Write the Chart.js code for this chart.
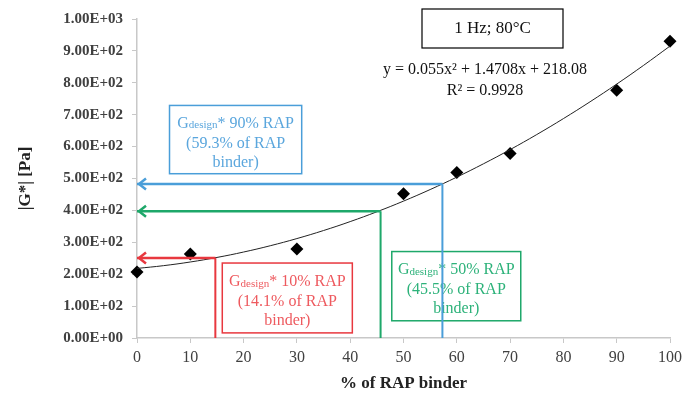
<!DOCTYPE html>
<html>
<head>
<meta charset="utf-8">
<script src="https://cdn.jsdelivr.net/npm/chart.js@4.4.1/dist/chart.umd.min.js"></script>
<style>
  html, body { margin: 0; padding: 0; background: #fff; }
  #wrap { width: 684px; height: 398px; }
</style>
</head>
<body>
<div id="wrap"><canvas id="chart"></canvas></div>
<script>
// measured |G*| at 1 Hz, 80°C
const rapPercent = [0, 10, 30, 50, 60, 70, 90, 100];
const gStar = [207, 263, 279, 452, 519, 578, 777, 930];

// polynomial trendline y = a x^2 + b x + c
const trendCoef = [0.055, 1.4708, 218.08];
const trendX = [0, 5, 10, 15, 20, 25, 30, 35, 40, 45, 50, 55, 60, 65, 70, 75, 80, 85, 90, 95, 100];

// design points read from the trendline: [% RAP binder, |G*|]
const design90 = [57.3, 483];
const design50 = [45.7, 397];
const design10 = [14.7, 251];

const xTicks = [0, 10, 20, 30, 40, 50, 60, 70, 80, 90, 100];
const yTicks = [0, 100, 200, 300, 400, 500, 600, 700, 800, 900, 1000];

const BLUE = '#4a9ed9';
const GREEN = '#1ea86a';
const RED = '#e8383f';
const SERIF = '"Liberation Serif", "DejaVu Serif", serif';

const trend = trendX.map(x => ({ x, y: trendCoef[0] * x * x + trendCoef[1] * x + trendCoef[2] }));

function guide(pt, color) {
  return [
    { type: 'line', data: [{ x: pt[0], y: pt[1] }, { x: 0, y: pt[1] }], borderColor: color,
      borderWidth: 2.5, pointRadius: 0, showLine: true, arrowColor: color },
    { type: 'line', data: [{ x: pt[0], y: pt[1] }, { x: pt[0], y: 0 }], borderColor: color,
      borderWidth: 2, pointRadius: 0, showLine: true }
  ];
}

// arrowheads at the axis end of the horizontal guides
const arrowHeads = {
  id: 'arrowHeads',
  afterDatasetsDraw(chart) {
    const ctx = chart.ctx;
    chart.data.datasets.forEach((ds, i) => {
      if (!ds.arrowColor) return;
      const meta = chart.getDatasetMeta(i);
      const tip = meta.data[1];
      ctx.save();
      ctx.strokeStyle = ds.arrowColor;
      ctx.lineWidth = 2.5;
      ctx.beginPath();
      ctx.moveTo(tip.x + 9, tip.y - 5.5);
      ctx.lineTo(tip.x + 2, tip.y);
      ctx.lineTo(tip.x + 9, tip.y + 5.5);
      ctx.stroke();
      ctx.restore();
    });
  }
};

// text boxes: [x1, y1, x2, y2] in axis units, lines of text
const notes = [
  { box: [6.1, 729, 30.9, 515], color: BLUE, text: '#5aa6dd', pct: '90% RAP', sub: '(59.3% of RAP' },
  { box: [16.0, 235, 40.4, 16], color: RED, text: '#ee5a5f', pct: '10% RAP', sub: '(14.1% of RAP' },
  { box: [47.8, 271, 72.0, 54], color: GREEN, text: '#2db27a', pct: '50% RAP', sub: '(45.5% of RAP' }
];

// the boxes sit under the guide lines
const noteBoxes = {
  id: 'noteBoxes',
  beforeDatasetsDraw(chart) {
    const ctx = chart.ctx;
    const xs = chart.scales.x, ys = chart.scales.y;
    ctx.save();
    notes.forEach(n => {
      const x1 = xs.getPixelForValue(n.box[0]), x2 = xs.getPixelForValue(n.box[2]);
      const y1 = ys.getPixelForValue(n.box[1]), y2 = ys.getPixelForValue(n.box[3]);
      ctx.strokeStyle = n.color;
      ctx.lineWidth = 1.5;
      ctx.strokeRect(x1, y1, x2 - x1, y2 - y1);
      const cx = (x1 + x2) / 2, cy = (y1 + y2) / 2;
      ctx.fillStyle = n.text;
      ctx.textBaseline = 'middle';
      // first line: G with small "design" then "* NN% RAP"
      const big = '16px ' + SERIF, small = '11px ' + SERIF;
      ctx.font = big;
      const wG = ctx.measureText('G').width;
      const rest = '* ' + n.pct;
      const wR = ctx.measureText(rest).width;
      ctx.font = small;
      const wD = ctx.measureText('design').width;
      let x = cx - (wG + wD + wR) / 2;
      const l1 = cy - 16;
      ctx.textAlign = 'left';
      ctx.font = big;
      ctx.fillText('G', x, l1);
      x += wG;
      ctx.font = small;
      ctx.fillText('design', x, l1 + 2);
      x += wD;
      ctx.font = big;
      ctx.fillText(rest, x, l1);
      ctx.textAlign = 'center';
      ctx.fillText(n.sub, cx, cy + 4);
      ctx.fillText('binder)', cx, cy + 23);
    });
    ctx.restore();
  },
  afterDraw(chart) {
    const ctx = chart.ctx;
    // test condition box and fit equation
    const bx1 = 422, bx2 = 563, by1 = 9, by2 = 48;
    ctx.save();
    ctx.strokeStyle = '#000';
    ctx.lineWidth = 1.2;
    ctx.strokeRect(bx1, by1, bx2 - bx1, by2 - by1);
    ctx.fillStyle = '#111';
    ctx.textAlign = 'center';
    ctx.textBaseline = 'middle';
    ctx.font = '17px ' + SERIF;
    ctx.fillText('1 Hz; 80°C', (bx1 + bx2) / 2, 29);
    ctx.font = '16px ' + SERIF;
    ctx.fillText('y = 0.055x² + 1.4708x + 218.08', 485, 70);
    ctx.fillText('R² = 0.9928', 485, 91);
    ctx.restore();
  }
};

new Chart(document.getElementById('chart'), {
  type: 'scatter',
  data: {
    datasets: [
      ...guide(design90, BLUE),
      ...guide(design50, GREEN),
      ...guide(design10, RED),
      { type: 'line', data: trend, borderColor: '#222', borderWidth: 1, pointRadius: 0,
        showLine: true, tension: 0.4 },
      { data: rapPercent.map((x, i) => ({ x, y: gStar[i] })), pointStyle: 'rectRot', clip: false,
        pointRadius: 6.5, pointHoverRadius: 6.5, backgroundColor: '#000', borderColor: '#000', borderWidth: 0 }
    ]
  },
  options: {
    responsive: true,
    maintainAspectRatio: false,
    animation: false,
    events: [],
    layout: { padding: { top: 19, right: 0, bottom: 0, left: 0 } },
    plugins: { legend: { display: false }, tooltip: { enabled: false } },
    scales: {
      x: {
        type: 'linear', min: 0, max: 100,
        afterBuildTicks: s => { s.ticks = xTicks.map(v => ({ value: v })); },
        afterFit: s => { s.height = 60; s.paddingRight = 14; },
        grid: { drawOnChartArea: false, tickLength: 5, color: '#c8c8c8' },
        border: { color: '#c8c8c8', width: 1.5 },
        ticks: { color: '#404040', padding: 5, font: { family: SERIF, size: 16 } },
        title: { display: true, text: '% of RAP binder', color: '#222',
          font: { family: SERIF, size: 17, weight: 'bold' }, padding: { top: 0, bottom: 4 } }
      },
      y: {
        type: 'linear', min: 0, max: 1000,
        afterBuildTicks: s => { s.ticks = yTicks.map(v => ({ value: v })); },
        afterFit: s => { s.width = 137; },
        grid: { drawOnChartArea: false, tickLength: 5, color: '#c8c8c8' },
        border: { color: '#c8c8c8', width: 1.5 },
        ticks: { color: '#404040', padding: 9, font: { family: SERIF, size: 15, weight: 'bold' },
          callback: v => v === 0 ? '0.00E+00' : v.toExponential(2).toUpperCase().replace('E+', 'E+0') },
        title: { display: true, text: '|G*| [Pa]', color: '#222',
          font: { family: SERIF, size: 17, weight: 'bold' }, padding: { top: 15, bottom: 0 } }
      }
    }
  },
  plugins: [arrowHeads, noteBoxes]
});
</script>
</body>
</html>
